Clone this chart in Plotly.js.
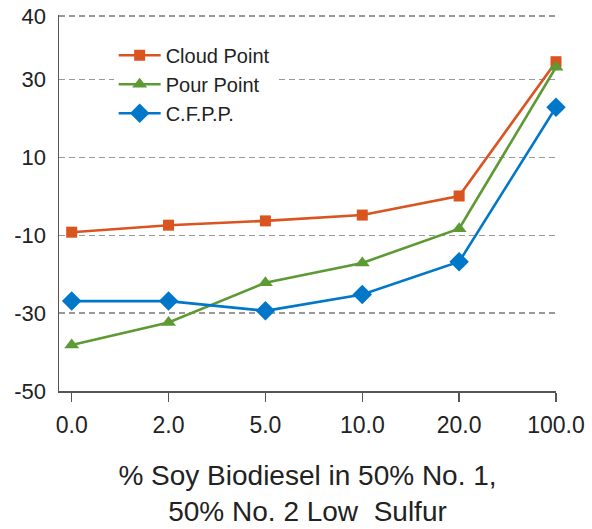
<!DOCTYPE html>
<html><head><meta charset="utf-8">
<script src="https://cdn.plot.ly/plotly-3.0.1.min.js"></script>
<style>html,body{margin:0;padding:0;background:#fff;}#chart{width:592px;height:529px;}</style>
</head><body><div id="chart"></div>
<script>
const categories = ["0.0", "2.0", "5.0", "10.0", "20.0", "100.0"];
const cloudPoint = [-9.2, -7.4, -6.3, -4.8, 0.1, 34.6];
const pourPoint = [-38.2, -32.4, -22.2, -17.1, -8.3, 33.2];
const cfpp = [-26.9, -26.9, -29.4, -25.2, -16.8, 22.9];
const yTickVals = [-50, -30, -10, 10, 30, 46.3];
const yTickText = ["-50", "-30", "-10", "10", "30", "40"];

const FONT = "Liberation Sans, Arial, sans-serif";
const xIdx = categories.map((c, i) => i);

function trace(name, y, color, symbol, size) {
  return {
    type: "scatter", mode: "lines+markers", name: name,
    x: xIdx, y: y,
    line: {color: color, width: 2.6},
    marker: {color: color, symbol: symbol, size: size},
    cliponaxis: false
  };
}

const data = [
  trace("Cloud Point", cloudPoint, "#DA5420", "square", 11),
  trace("Pour Point", pourPoint, "#5E9A33", "triangle-up", 13),
  trace("C.F.P.P.", cfpp, "#0077C8", "diamond", 15)
];

const layout = {
  width: 592, height: 529,
  margin: {l: 59, r: 36, t: 15, b: 138},
  paper_bgcolor: "#fff", plot_bgcolor: "#fff",
  font: {family: FONT, color: "#222", size: 22},
  showlegend: true,
  legend: {
    x: 0.11, y: 0.945, xanchor: "left", yanchor: "top",
    bgcolor: "#fff", font: {family: FONT, size: 20, color: "#222"},
    itemwidth: 42, tracegroupgap: 0
  },
  xaxis: {
    range: [-0.131, 5],
    tickmode: "array", tickvals: xIdx, ticktext: categories,
    showgrid: false, zeroline: false,
    showline: true, linecolor: "#555", linewidth: 1.5,
    ticks: "outside", ticklen: 9, tickwidth: 1.5, tickcolor: "#555",
    tickfont: {family: FONT, size: 23, color: "#222"},
    ticklabelstandoff: 4,
    title: {text: "% Soy Biodiesel in 50% No. 1,<br>50% No. 2 Low  Sulfur", font: {family: FONT, size: 28, color: "#222"}, standoff: 28}
  },
  yaxis: {
    range: [-50, 46.6],
    tickmode: "array", tickvals: yTickVals, ticktext: yTickText,
    showgrid: true, gridcolor: "#999", gridwidth: 1.5, griddash: "6px,4px",
    zeroline: false, showline: true, linecolor: "#555", linewidth: 1.5,
    ticks: "", tickfont: {family: FONT, size: 22, color: "#222"},
    ticklabelstandoff: 7
  }
};

Plotly.newPlot("chart", data, layout, {displayModeBar: false, staticPlot: true});
</script></body></html>
